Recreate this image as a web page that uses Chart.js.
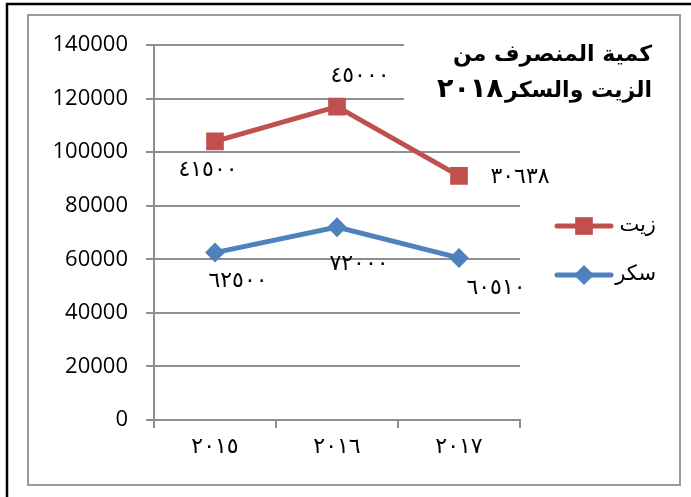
<!DOCTYPE html>
<html lang="ar">
<head>
<meta charset="UTF-8">
<title>كمية المنصرف من الزيت والسكر</title>
<script src="https://cdn.jsdelivr.net/npm/chart.js"></script>
<style>
  body { margin: 0; background: #fff; }
  canvas { display: block; }
</style>
</head>
<body>
<canvas id="c" width="691" height="497"></canvas>
<script>
// data (stacked line: oil sits on top of sugar)
const years = ['٢٠١٥', '٢٠١٦', '٢٠١٧'];
const sugar = [62500, 72000, 60510];
const oil = [41500, 45000, 30638];
const seriesNames = ['سكر', 'زيت'];
const titleLine1 = 'كمية المنصرف من';
const titleLine2 = 'الزيت والسكر';
const titleYear = '٢٠١٨';

const RED = '#C0504D';
const BLUE = '#4F81BD';
const GRID = '#8e8e8e';
const AR_FONT = '"DejaVu Sans", sans-serif';

// where each data label sits relative to its point [dx, dy]
const labelOffsets = [
  [[23, 29], [22, 37], [37, 30]],
  [[-7, 29], [23, -30], [61, 1]]
];

const toArabicDigits = v => String(v).replace(/\d/g, d => '٠١٢٣٤٥٦٧٨٩'[d]);

const decor = {
  id: 'decor',
  afterLayout(chart) {
    const xs = chart.scales.x;
    if (!xs._spaced) {
      xs._spaced = true;
      xs.drawLabels = function (area) {
        const c = this.ctx;
        c.save();
        c.letterSpacing = '5px';
        Object.getPrototypeOf(this).drawLabels.call(this, area);
        c.restore();
      };
    }
  },
  beforeDraw(chart) {
    const ctx = chart.ctx;
    ctx.save();
    ctx.fillStyle = '#fff';
    ctx.fillRect(0, 0, chart.width, chart.height);
    // outer black frame
    ctx.strokeStyle = '#000';
    ctx.lineWidth = 2.5;
    ctx.beginPath();
    ctx.moveTo(7, chart.height);
    ctx.lineTo(7, 4);
    ctx.lineTo(chart.width, 4);
    ctx.stroke();
    // inner grey frame
    ctx.strokeStyle = '#9a9a9a';
    ctx.lineWidth = 2;
    ctx.strokeRect(28, 15, 652, 470);
    ctx.restore();
  },
  afterDatasetsDraw(chart) {
    const ctx = chart.ctx;
    ctx.save();
    ctx.fillStyle = '#000';
    ctx.font = '22px ' + AR_FONT;
    ctx.letterSpacing = '4px';
    ctx.textAlign = 'center';
    ctx.textBaseline = 'middle';
    chart.data.datasets.forEach((ds, di) => {
      const meta = chart.getDatasetMeta(di);
      meta.data.forEach((pt, i) => {
        const [dx, dy] = labelOffsets[di][i];
        ctx.fillText(toArabicDigits(ds.data[i]), pt.x + dx, pt.y + dy);
      });
    });
    ctx.restore();
  },
  afterDraw(chart) {
    const ctx = chart.ctx;
    ctx.save();
    // title box covers the top grid lines
    ctx.fillStyle = '#fff';
    ctx.fillRect(404, 30, 272, 82);
    ctx.fillStyle = '#000';
    ctx.font = 'bold 22px ' + AR_FONT;
    ctx.textBaseline = 'middle';
    ctx.direction = 'rtl';
    ctx.textAlign = 'right';
    ctx.fillText(titleLine1, 652, 55);
    ctx.fillText(titleLine2, 652, 91);
    const w = ctx.measureText(titleLine2).width;
    ctx.direction = 'ltr';
    ctx.font = 'bold 27px ' + AR_FONT;
    ctx.letterSpacing = '6px';
    ctx.fillText(titleYear, 652 - w - 2, 90);
    ctx.letterSpacing = '0px';

    // legend
    const rows = [[1, 226], [0, 275]];
    rows.forEach(([di, y]) => {
      const ds = chart.data.datasets[di];
      ctx.strokeStyle = ds.borderColor;
      ctx.lineWidth = 5;
      ctx.lineCap = 'round';
      ctx.beginPath();
      ctx.moveTo(557, y);
      ctx.lineTo(611, y);
      ctx.stroke();
      ctx.fillStyle = ds.backgroundColor;
      Chart.helpers.drawPoint(ctx, {
        pointStyle: ds.pointStyle, radius: ds.pointRadius, rotation: 0, borderWidth: 0
      }, 584, y);
      ctx.fillStyle = '#000';
      ctx.font = '21px ' + AR_FONT;
      ctx.direction = 'rtl';
      ctx.textAlign = 'right';
      ctx.fillText(ds.label, 656, y);
    });
    ctx.restore();
  }
};

new Chart(document.getElementById('c'), {
  type: 'line',
  data: {
    labels: years,
    datasets: [
      {
        label: seriesNames[0],
        data: sugar,
        borderColor: BLUE,
        backgroundColor: BLUE,
        borderWidth: 5,
        pointStyle: 'rectRot',
        pointRadius: 10,
        pointBorderWidth: 0,
        tension: 0,
        fill: false
      },
      {
        label: seriesNames[1],
        data: oil,
        borderColor: RED,
        backgroundColor: RED,
        borderWidth: 5,
        pointStyle: 'rect',
        pointRadius: 12.5,
        pointBorderWidth: 0,
        tension: 0,
        fill: false
      }
    ]
  },
  options: {
    responsive: false,
    animation: false,
    layout: { padding: { left: 0, right: 171, top: 45, bottom: 0 } },
    plugins: {
      legend: { display: false },
      title: { display: false },
      tooltip: { enabled: false }
    },
    scales: {
      x: {
        offset: true,
        grid: { offset: true, drawOnChartArea: false, tickLength: 8, color: GRID, lineWidth: 2 },
        border: { color: GRID, width: 2 },
        ticks: { color: '#000', font: { family: AR_FONT, size: 22 }, padding: 6 },
        afterFit(scale) { scale.height = 77; }
      },
      y: {
        stacked: true,
        min: 0,
        max: 140000,
        grid: { tickLength: 8, color: GRID, lineWidth: 2 },
        border: { color: GRID, width: 2 },
        ticks: {
          stepSize: 20000,
          color: '#000',
          font: { family: '"Open Sans", sans-serif', size: 22 },
          padding: 18,
          callback: v => String(v)
        },
        afterFit(scale) { scale.width = 154; }
      }
    }
  },
  plugins: [decor]
});
</script>
</body>
</html>
